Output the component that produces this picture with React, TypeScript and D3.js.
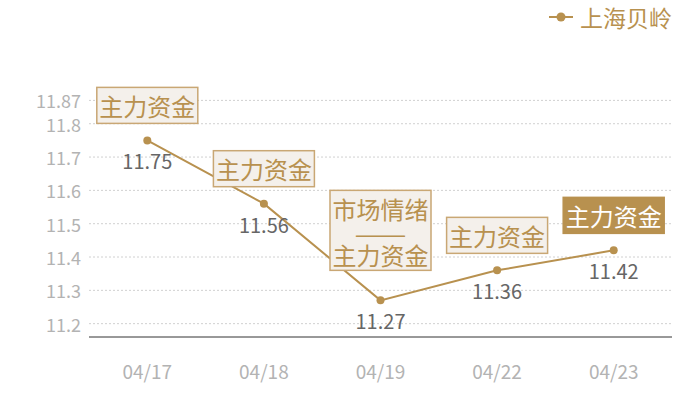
import * as d3 from 'd3'
import React from 'react'

// chart data
const dates = ['04/17', '04/18', '04/19', '04/22', '04/23']
const prices = [11.75, 11.56, 11.27, 11.36, 11.42]
const notes = [
  ['主力资金'],
  ['主力资金'],
  ['市场情绪', '——', '主力资金'],
  ['主力资金'],
  ['主力资金'],
]
const highlighted = [false, false, false, false, true]
const yTicks = [11.2, 11.3, 11.4, 11.5, 11.6, 11.7, 11.8, 11.87]
const yDomain = [11.16, 11.87]
const seriesName = '上海贝岭'

const W = 700
const H = 400
const margin = { left: 89, right: 28, top: 100.4, bottom: 63 }
const gold = '#b8914f'
const font = '"Noto Sans CJK SC", "Noto Sans", sans-serif'

const App = () => {
  const x = d3.scaleBand()
    .domain(dates)
    .range([margin.left, W - margin.right])
  const y = d3.scaleLinear()
    .domain(yDomain)
    .range([H - margin.bottom, margin.top])

  const cx = (d: string) => (x(d) as number) + x.bandwidth() / 2

  const line = d3.line<number>()
    .x((d, i) => cx(dates[i]))
    .y((d) => y(d))

  return (
    <svg width={W} height={H} style={{ position: 'absolute', left: 0, top: 0 }} fontFamily={font}>
      {/* grid */}
      {yTicks.map((t) => (
        <g key={t}>
          <line x1={margin.left} x2={W - margin.right} y1={y(t)} y2={y(t)}
            stroke='#d0d0d0' strokeDasharray='2,2' />
          <text x={margin.left - 8} y={y(t)} textAnchor='end' dominantBaseline='central'
            fontSize={18} fill='#b3b3b3'>{t}</text>
        </g>
      ))}
      {/* axis */}
      <line x1={margin.left} x2={W - margin.right} y1={H - margin.bottom} y2={H - margin.bottom}
        stroke='#333' strokeWidth={1} />
      {dates.map((d) => (
        <text key={d} x={cx(d)} y={379} textAnchor='middle' fontSize={19} fill='#b3b3b3'>{d}</text>
      ))}
      {/* series */}
      <path d={line(prices) || ''} fill='none' stroke={gold} strokeWidth={2} />
      {prices.map((p, i) => (
        <g key={i}>
          <circle cx={cx(dates[i])} cy={y(p)} r={4} fill={gold} />
          <text x={cx(dates[i])} y={y(p) + 29} textAnchor='middle' fontSize={20} fill='#666'>
            {p}
          </text>
        </g>
      ))}
      {/* annotation boxes */}
      {notes.map((lines, i) => {
        const px = cx(dates[i])
        const py = y(prices[i])
        const bh = lines.length * 22 + 14
        const gap = lines.length > 1 ? 30 : 17
        const top = py - gap - bh
        const bw = 101
        const hi = highlighted[i]
        return (
          <g key={'n' + i}>
            <rect x={px - bw / 2} y={top} width={bw} height={bh}
              fill={hi ? gold : '#f4f0eb'} stroke={hi ? gold : '#c9a774'} strokeWidth={1.5} />
            {lines.map((l, j) => {
              const dash = l.startsWith('—')
              return (
                <text key={j} x={px} y={top + 18 + j * 22 + (j > 0 ? 2 : 0)} textAnchor='middle'
                  dominantBaseline='central' fontSize={24} fill={hi ? '#fff' : gold}
                  {...(dash ? { textLength: 52, lengthAdjust: 'spacingAndGlyphs' } : {})}>
                  {l}
                </text>
              )
            })}
          </g>
        )
      })}
      {/* legend */}
      <line x1={549} x2={573} y1={17} y2={17} stroke={gold} strokeWidth={2} />
      <circle cx={561} cy={17} r={4.5} fill={gold} />
      <text x={580} y={17} dominantBaseline='central' fontSize={23} fill={gold}>{seriesName}</text>
    </svg>
  )
}

export default App
